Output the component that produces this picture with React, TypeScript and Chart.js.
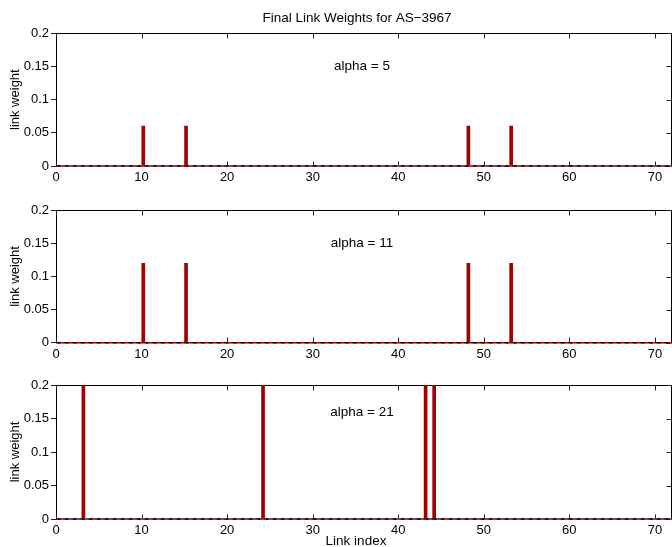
import React, { useEffect, useRef } from 'react';
import { Chart, registerables } from 'chart.js';

Chart.register(...registerables);

// ---------- data ----------
const CHART_TITLE = 'Final Link Weights for AS−3967';
const X_LABEL = 'Link index';
const Y_LABEL = 'link weight';
const X_MIN = 0;
const X_MAX = 72;
const X_STEP = 10;
const Y_MIN = 0;
const Y_MAX = 0.2;
const Y_STEP = 0.05;

const PANEL_LABELS = ['alpha = 5', 'alpha = 11', 'alpha = 21'];

const LINKS_ALPHA5 = [10, 15, 48, 53];
const WEIGHTS_ALPHA5 = [0.06, 0.06, 0.06, 0.06];

const LINKS_ALPHA11 = [10, 15, 48, 53];
const WEIGHTS_ALPHA11 = [0.12, 0.12, 0.12, 0.12];

const LINKS_ALPHA21 = [3, 24, 43, 44];
const WEIGHTS_ALPHA21 = [0.2, 0.2, 0.2, 0.2];

// the other (near-zero) series drawn along the baseline
const BASELINE_X = [0, 72];
const BASELINE_Y = [0, 0];

// ---------- styles ----------
const FONT = '"Liberation Sans", Arial, Helvetica, sans-serif';
const BAR_GROUP_OFFSET = 0.2;
const BAR_COLOR = '#A00000';

const BASELINE_STYLES = [
  { color: '#000000', dash: [4, 4], offset: 0 },
  { color: '#B00000', dash: [4, 4], offset: 4 },
  { color: '#0000A0', dash: [3, 5], offset: 6 },
  { color: '#66FF55', dash: [2, 6], offset: 2 },
];

type PanelSpec = {
  links: number[];
  weights: number[];
  label: string;
  padTop: number;
  padBottom: number;
  xAxisH: number;
  labelY: number;
  showTitle: boolean;
  showXTitle: boolean;
};

const PANELS: PanelSpec[] = [
  { links: LINKS_ALPHA5, weights: WEIGHTS_ALPHA5, label: PANEL_LABELS[0], padTop: 33.3, padBottom: 547 - 166 - 30, xAxisH: 30, labelY: 66, showTitle: true, showXTitle: false },
  { links: LINKS_ALPHA11, weights: WEIGHTS_ALPHA11, label: PANEL_LABELS[1], padTop: 210.3, padBottom: 547 - 342.7 - 30, xAxisH: 30, labelY: 243, showTitle: false, showXTitle: false },
  { links: LINKS_ALPHA21, weights: WEIGHTS_ALPHA21, label: PANEL_LABELS[2], padTop: 385, padBottom: 0, xAxisH: 28, labelY: 412, showTitle: false, showXTitle: true },
];

const fmt = (v: number) => String(parseFloat(Number(v).toFixed(3)));

const framePlugin = {
  id: 'frame',
  beforeDatasetsDraw(chart: any) {
    const { ctx, chartArea: a, scales } = chart;
    const x = scales.x;
    const y = scales.y;
    const L = Math.floor(a.left) + 0.5;
    const R = Math.floor(a.right) - 0.5;
    const T = Math.floor(a.top) + 0.5;
    const B = Math.floor(a.bottom) + 0.5;
    ctx.save();
    ctx.strokeStyle = '#000';
    ctx.lineWidth = 1;
    ctx.beginPath();
    ctx.moveTo(L, B);
    ctx.lineTo(L, T);
    ctx.lineTo(R, T);
    ctx.lineTo(R, B);
    ctx.stroke();
    ctx.strokeStyle = '#222';
    ctx.beginPath();
    x.ticks.forEach((t: any) => {
      const px = Math.round(x.getPixelForValue(t.value)) + 0.5;
      ctx.moveTo(px, B);
      ctx.lineTo(px, B - 5);
      ctx.moveTo(px, T);
      ctx.lineTo(px, T + 5);
    });
    y.ticks.forEach((t: any) => {
      const py = Math.round(y.getPixelForValue(t.value)) + 0.5;
      ctx.moveTo(R, py);
      ctx.lineTo(R - 5, py);
    });
    ctx.stroke();
    ctx.restore();
  },
};

const makeTextPlugin = (spec: PanelSpec) => ({
  id: 'texts',
  afterDraw(chart: any) {
    const { ctx } = chart;
    ctx.save();
    ctx.fillStyle = '#000';
    ctx.textAlign = 'center';
    ctx.textBaseline = 'middle';
    ctx.font = `13.5px ${FONT}`;
    ctx.fillText(spec.label, 362, spec.labelY);
    if (spec.showTitle) ctx.fillText(CHART_TITLE, 357, 18);
    if (spec.showXTitle) ctx.fillText(X_LABEL, 356, 541);
    ctx.restore();
  },
});

function Panel({ spec }: { spec: PanelSpec }) {
  const ref = useRef<HTMLCanvasElement | null>(null);
  useEffect(() => {
    if (!ref.current) return;
    const baselineData = BASELINE_X.map((xv, i) => ({ x: xv, y: BASELINE_Y[i] }));
    const datasets: any[] = BASELINE_STYLES.map((s) => ({
      type: 'line',
      data: baselineData,
      borderColor: s.color,
      borderWidth: 1.6,
      borderDash: s.dash,
      borderDashOffset: s.offset,
      pointRadius: 0,
      clip: false,
    }));
    datasets.push({
      type: 'bar',
      data: spec.links.map((l, i) => ({ x: l + BAR_GROUP_OFFSET, y: spec.weights[i] })),
      backgroundColor: BAR_COLOR,
      borderWidth: 0,
      barThickness: 3,
      clip: 0,
    });
    const tickFont = { family: FONT, size: 13 };
    const chart = new Chart(ref.current, {
      type: 'bar',
      data: { datasets },
      options: {
        animation: false,
        responsive: false,
        events: [],
        layout: { padding: { top: spec.padTop, bottom: spec.padBottom, left: 0, right: 0 } },
        plugins: {
          legend: { display: false },
          tooltip: { enabled: false },
          title: { display: false },
        },
        scales: {
          x: {
            type: 'linear',
            min: X_MIN,
            max: X_MAX,
            offset: false,
            grid: { display: false, drawTicks: false, offset: false },
            border: { display: false },
            ticks: {
              stepSize: X_STEP,
              includeBounds: false,
              padding: 4,
              color: '#000',
              font: tickFont,
              maxRotation: 0,
              autoSkip: false,
            },
            afterFit: (s: any) => {
              s.height = spec.xAxisH;
            },
          },
          y: {
            type: 'linear',
            min: Y_MIN,
            max: Y_MAX,
            grid: { display: true, drawOnChartArea: false, drawTicks: true, tickLength: 5, color: '#222' },
            border: { display: false },
            ticks: {
              stepSize: Y_STEP,
              padding: 2,
              color: '#000',
              font: tickFont,
              callback: (v: any) => fmt(v),
            },
            title: {
              display: true,
              text: Y_LABEL,
              color: '#000',
              font: { family: FONT, size: 13 },
              padding: { top: 7.5, bottom: 0 },
            },
            afterFit: (s: any) => {
              s.width = 56;
            },
          },
        },
      } as any,
      plugins: [framePlugin, makeTextPlugin(spec)],
    });
    return () => chart.destroy();
  }, [spec]);
  return (
    <canvas
      ref={ref}
      width={672}
      height={547}
      style={{ position: 'absolute', left: 0, top: 0, width: 672, height: 547 }}
    />
  );
}

export default function App() {
  return (
    <div
      style={{
        position: 'fixed',
        left: 0,
        top: 0,
        width: 672,
        height: 547,
        background: '#fff',
        overflow: 'hidden',
      }}
    >
      {PANELS.map((p, i) => (
        <Panel key={i} spec={p} />
      ))}
    </div>
  );
}
